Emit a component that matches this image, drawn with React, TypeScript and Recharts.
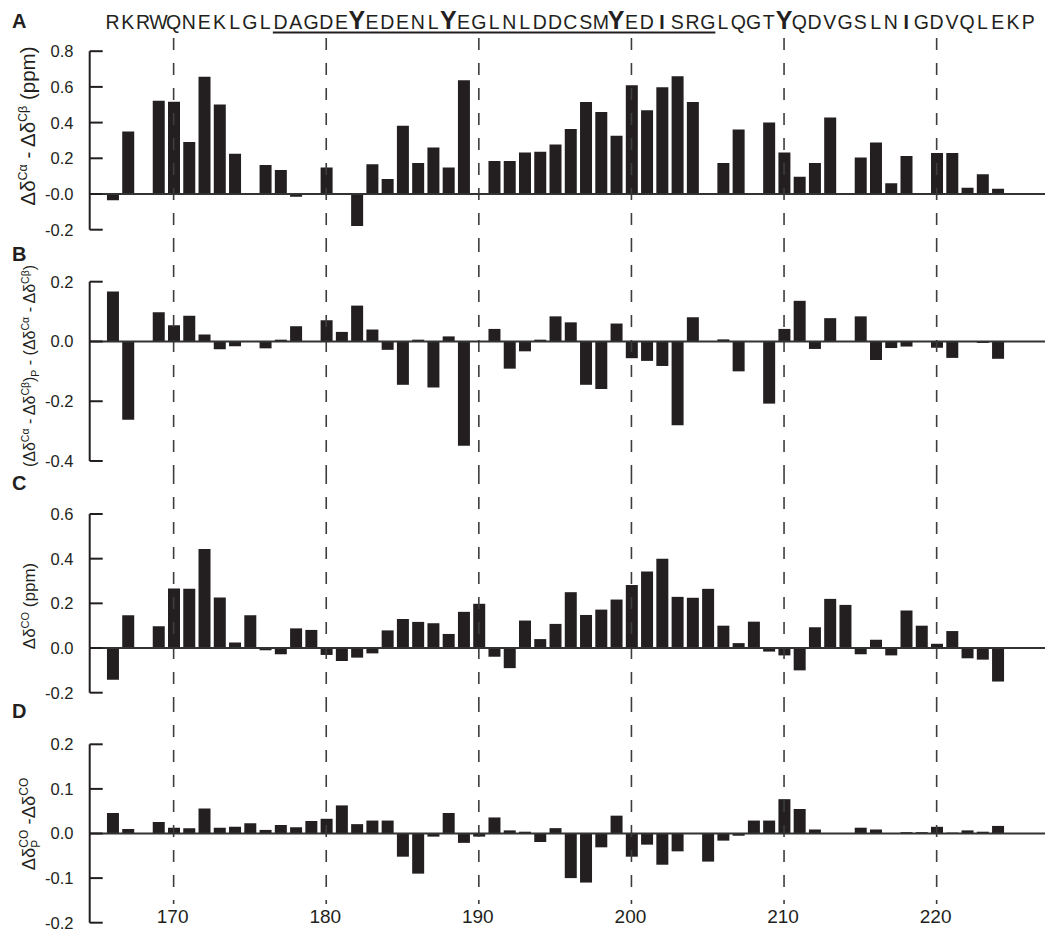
import React from 'react';
import { BarChart, Bar, XAxis, YAxis, ReferenceLine } from 'recharts';

const FONT = '"Liberation Sans", Arial, Helvetica, sans-serif';
const INK = '#231f20';

// Residue numbers carrying a bar (166–224)
const residues = [
  166, 167, 168, 169, 170, 171, 172, 173, 174, 175,
  176, 177, 178, 179, 180, 181, 182, 183, 184, 185,
  186, 187, 188, 189, 190, 191, 192, 193, 194, 195,
  196, 197, 198, 199, 200, 201, 202, 203, 204, 205,
  206, 207, 208, 209, 210, 211, 212, 213, 214, 215,
  216, 217, 218, 219, 220, 221, 222, 223, 224,
];

// Primary sequence written over the top panel, residues 166–226
const sequence = 'RKRWQNEKLGLDAGDEYEDENLYEGLNLDDCSMYEDISRGLQGTYQDVGSLNIGDVQLEKP'.split('');
const sequenceResidues = sequence.map((_, i) => 166 + i);
const underlinedSpan = [176.5, 205.5];
const residueTicks = [170, 180, 190, 200, 210, 220];

// A: Δδ(Cα) − Δδ(Cβ), ppm
const caCbShift = [
  -0.035, 0.35, 0, 0.523, 0.517, 0.291, 0.657, 0.502, 0.226, 0,
  0.162, 0.134, -0.015, 0, 0.149, 0, -0.179, 0.166, 0.084, 0.383,
  0.174, 0.26, 0.148, 0.637, 0, 0.185, 0.185, 0.232, 0.237, 0.278,
  0.364, 0.515, 0.459, 0.327, 0.609, 0.469, 0.598, 0.659, 0.515, 0,
  0.174, 0.362, 0, 0.4, 0.233, 0.097, 0.174, 0.428, 0, 0.204,
  0.288, 0.06, 0.213, 0, 0.23, 0.23, 0.035, 0.11, 0.03,
];

// B: phosphorylated minus unmodified Δδ(Cα) − Δδ(Cβ)
const caCbPhosDiff = [
  0.167, -0.262, 0, 0.098, 0.054, 0.086, 0.023, -0.026, -0.016, 0,
  -0.023, 0.006, 0.051, 0, 0.071, 0.032, 0.12, 0.04, -0.028, -0.145,
  0.006, -0.154, 0.017, -0.349, 0, 0.042, -0.091, -0.033, 0.006, 0.084,
  0.064, -0.145, -0.159, 0.06, -0.056, -0.065, -0.082, -0.28, 0.081, 0,
  0.007, -0.1, 0, -0.208, 0.042, 0.136, -0.025, 0.078, 0, 0.084,
  -0.062, -0.022, -0.017, 0, -0.021, -0.055, 0, -0.005, -0.058,
];

// C: Δδ(CO), ppm
const coShift = [
  -0.142, 0.147, 0, 0.097, 0.267, 0.265, 0.443, 0.226, 0.025, 0.147,
  -0.01, -0.028, 0.088, 0.081, -0.031, -0.058, -0.043, -0.024, 0.079, 0.13,
  0.117, 0.111, 0.063, 0.162, 0.198, -0.039, -0.09, 0.123, 0.04, 0.108,
  0.25, 0.148, 0.172, 0.217, 0.282, 0.343, 0.4, 0.229, 0.225, 0.265,
  0.1, 0.022, 0.118, -0.016, -0.033, -0.1, 0.093, 0.22, 0.193, -0.028,
  0.037, -0.033, 0.168, 0.1, 0.019, 0.076, -0.046, -0.052, -0.15,
];

// D: phosphorylated minus unmodified Δδ(CO)
const coPhosDiff = [
  0.046, 0.01, 0, 0.026, 0.013, 0.012, 0.056, 0.013, 0.015, 0.023,
  0.008, 0.019, 0.014, 0.028, 0.033, 0.063, 0.021, 0.029, 0.029, -0.052,
  -0.09, -0.007, 0.046, -0.021, -0.007, 0.036, 0.007, 0.004, -0.019, 0.012,
  -0.1, -0.11, -0.031, 0.04, -0.052, -0.025, -0.07, -0.04, 0.001, -0.063,
  -0.016, -0.005, 0.029, 0.029, 0.077, 0.055, 0.009, 0, -0.001, 0.013,
  0.009, 0, 0.003, 0.003, 0.015, 0.002, 0.007, 0.004, 0.017,
];

const ticksA = [0.8, 0.6, 0.4, 0.2, 0, -0.2];
const tickLabelsA = ['0.8', '0.6', '0.4', '0.2', '-0.0', '-0.2'];
const ticksB = [0.2, 0, -0.2, -0.4];
const tickLabelsB = ['0.2', '0.0', '-0.2', '-0.4'];
const ticksC = [0.6, 0.4, 0.2, 0, -0.2];
const tickLabelsC = ['0.6', '0.4', '0.2', '0.0', '-0.2'];
const ticksD = [0.2, 0.1, 0, -0.1, -0.2];
const tickLabelsD = ['0.2', '0.1', '0.0', '-0.1', '-0.2'];

type Run = { t: string; sup?: boolean; sub?: boolean; stackSup?: boolean };

const titleA: Run[] = [
  { t: 'Δδ' }, { t: 'Cα', sup: true }, { t: ' - Δδ' }, { t: 'Cβ', sup: true }, { t: ' (ppm)' },
];
const titleB: Run[] = [
  { t: '(Δδ' }, { t: 'Cα', sup: true }, { t: ' - Δδ' }, { t: 'Cβ', sup: true }, { t: ')' },
  { t: 'P', sub: true }, { t: ' - (Δδ' }, { t: 'Cα', sup: true }, { t: ' - Δδ' },
  { t: 'Cβ', sup: true }, { t: ')' },
];
const titleC: Run[] = [{ t: 'Δδ' }, { t: 'CO', sup: true }, { t: ' (ppm)' }];
const titleD: Run[] = [
  { t: 'Δδ' }, { t: 'P', sub: true }, { t: 'CO', stackSup: true }, { t: ' -Δδ' }, { t: 'CO', sup: true },
];

// ---- layout ----
const WIDTH = 1045;
const HEIGHT = 934;
const PLOT_LEFT = 89.7;
const AXIS_W = 80;
const TICK_LEN = 13;
const X_AXIS_H = 1;
const X_DOMAIN: [number, number] = [164.5, 227.1];

interface PanelSpec {
  letter: string;
  top: number;
  height: number;
  lo: number;
  hi: number;
  loPx: number;
  hiPx: number;
  titleY: number;
  titleSize: number;
  scriptSize: number;
  letterY: number;
  gridTopPx?: number;
  gridBottomPx?: number;
  values: number[];
  ticks: number[];
  tickLabels: string[];
  title: Run[];
  showSequence?: boolean;
  showResidueAxis?: boolean;
}

const renderRuns = (runs: Run[], size: number, small: number) => {
  const out: React.ReactNode[] = [];
  const up = Math.round(size * 0.38);
  const down = Math.round(size * 0.25);
  let shift = 0;
  runs.forEach((r, i) => {
    if (r.sup || r.stackSup) {
      const dx = r.stackSup ? -small * 0.667 : 0;
      out.push(
        <tspan key={i} dx={dx} dy={-up - shift} fontSize={small}>{r.t}</tspan>,
      );
      shift = -up;
    } else if (r.sub) {
      out.push(
        <tspan key={i} dy={down - shift} fontSize={small}>{r.t}</tspan>,
      );
      shift = down;
    } else {
      out.push(
        <tspan key={i} dy={-shift} fontSize={size}>{r.t}</tspan>,
      );
      shift = 0;
    }
  });
  return out;
};

const Panel = ({ spec }: { spec: PanelSpec }) => {
  const ppu = (spec.loPx - spec.hiPx) / (spec.hi - spec.lo);
  const valueAt = (px: number) => spec.lo + (spec.loPx - px) / ppu;
  const plotTopPx = spec.top + (spec.showSequence ? X_AXIS_H : 0);
  const plotBottomPx = spec.top + spec.height - (spec.showResidueAxis ? X_AXIS_H : 0);
  const domain: [number, number] = [valueAt(plotBottomPx), valueAt(plotTopPx)];
  const data = residues.map((r, i) => ({ r, v: spec.values[i] }));
  const gridTop = spec.gridTopPx !== undefined ? valueAt(spec.gridTopPx) : domain[1];
  const gridBottom = spec.gridBottomPx !== undefined ? valueAt(spec.gridBottomPx) : domain[0];

  const YTick = (props: any) => {
    const { y, payload } = props;
    const i = spec.ticks.findIndex((t) => Math.abs(t - payload.value) < 1e-9);
    return (
      <g>
        <line x1={PLOT_LEFT} x2={PLOT_LEFT + TICK_LEN} y1={y} y2={y} stroke={INK} strokeWidth={2} />
        <text x={73.5} y={y} dy="0.36em" textAnchor="end" fontSize={16.5} fontFamily={FONT} fill={INK}>
          {spec.tickLabels[i]}
        </text>
      </g>
    );
  };

  const SeqTick = (props: any) => {
    const { x, payload } = props;
    const idx = sequenceResidues.indexOf(payload.value);
    const aa = sequence[idx];
    const big = aa === 'Y';
    const bold = big || aa === 'I';
    return (
      <text
        x={x}
        y={29 - spec.top}
        textAnchor="middle"
        fontFamily={FONT}
        fontSize={big ? 25 : 19.5}
        fontWeight={bold ? 'bold' : 'normal'}
        fill={INK}
      >
        {aa}
      </text>
    );
  };

  const ResidueTick = (props: any) => {
    const { x, payload } = props;
    return (
      <text x={x - 1} y={922.7 - spec.top} textAnchor="middle" fontFamily={FONT} fontSize={19} fill={INK}>
        {payload.value}
      </text>
    );
  };

  const ty = spec.titleY - spec.top;
  const Title = () => (
    <g>
      <text x={12} y={spec.letterY - spec.top} fontFamily={FONT} fontSize={20} fontWeight="bold" fill={INK}>
        {spec.letter}
      </text>
      <text
        x={35}
        y={ty}
        transform={`rotate(-90 35 ${ty})`}
        textAnchor="middle"
        fontFamily={FONT}
        fill={INK}
      >
        {renderRuns(spec.title, spec.titleSize, spec.scriptSize)}
      </text>
    </g>
  );

  return (
    <div style={{ position: 'absolute', left: 0, top: spec.top, width: WIDTH, height: spec.height }}>
      <BarChart
        width={WIDTH}
        height={spec.height}
        data={data}
        margin={{ top: 0, right: 0, bottom: 0, left: PLOT_LEFT - AXIS_W }}
      >
        {spec.showSequence ? (
          <XAxis
            dataKey="r"
            type="number"
            orientation="top"
            domain={X_DOMAIN}
            allowDataOverflow
            ticks={sequenceResidues}
            interval={0}
            height={X_AXIS_H}
            axisLine={false}
            tickLine={false}
            tick={SeqTick}
          />
        ) : spec.showResidueAxis ? (
          <XAxis
            dataKey="r"
            type="number"
            orientation="bottom"
            domain={X_DOMAIN}
            allowDataOverflow
            ticks={residueTicks}
            interval={0}
            height={X_AXIS_H}
            axisLine={false}
            tickLine={false}
            tick={ResidueTick}
          />
        ) : (
          <XAxis dataKey="r" type="number" domain={X_DOMAIN} allowDataOverflow hide />
        )}
        <YAxis
          type="number"
          domain={domain}
          allowDataOverflow
          ticks={spec.ticks}
          interval={0}
          width={AXIS_W}
          axisLine={false}
          tickLine={false}
          tick={YTick}
          label={() => <Title />}
        />
        {residueTicks.map((t) => (
          <ReferenceLine
            key={t}
            segment={[{ x: t, y: gridTop }, { x: t, y: gridBottom }]}
            stroke="#3d3d3d"
            strokeWidth={1.6}
            strokeDasharray="12 13"
          />
        ))}
        <ReferenceLine
          segment={[{ x: X_DOMAIN[0], y: spec.lo }, { x: X_DOMAIN[0], y: spec.hi }]}
          stroke={INK}
          strokeWidth={2}
        />
        {spec.showSequence && (
          <ReferenceLine
            segment={[{ x: underlinedSpan[0], y: valueAt(32.5) }, { x: underlinedSpan[1], y: valueAt(32.5) }]}
            stroke={INK}
            strokeWidth={2}
          />
        )}
        <ReferenceLine y={0} stroke="#333333" strokeWidth={2} />
        <Bar dataKey="v" fill={INK} barSize={12} isAnimationActive={false} />
      </BarChart>
    </div>
  );
};

const panels: PanelSpec[] = [
  {
    letter: 'A', top: 0, height: 240, lo: -0.2, hi: 0.8, loPx: 229.7, hiPx: 51.2,
    titleY: 126, titleSize: 20.5, scriptSize: 12.5, letterY: 28, gridTopPx: 38,
    values: caCbShift, ticks: ticksA, tickLabels: tickLabelsA, title: titleA, showSequence: true,
  },
  {
    letter: 'B', top: 240, height: 232, lo: -0.4, hi: 0.2, loPx: 461, hiPx: 281.7,
    titleY: 366, titleSize: 16, scriptSize: 10.5, letterY: 261,
    values: caCbPhosDiff, ticks: ticksB, tickLabels: tickLabelsB, title: titleB,
  },
  {
    letter: 'C', top: 472, height: 228, lo: -0.2, hi: 0.6, loPx: 692.7, hiPx: 514,
    titleY: 606, titleSize: 17, scriptSize: 11, letterY: 490,
    values: coShift, ticks: ticksC, tickLabels: tickLabelsC, title: titleC,
  },
  {
    letter: 'D', top: 700, height: 234, lo: -0.2, hi: 0.2, loPx: 922.7, hiPx: 744.3,
    titleY: 824, titleSize: 18.5, scriptSize: 12, letterY: 718, gridBottomPx: 904,
    values: coPhosDiff, ticks: ticksD, tickLabels: tickLabelsD, title: titleD, showResidueAxis: true,
  },
];

export default function App() {
  return (
    <div
      style={{
        position: 'absolute',
        left: 0,
        top: 0,
        width: WIDTH,
        height: HEIGHT,
        background: '#ffffff',
        overflow: 'hidden',
      }}
    >
      <style>{'.recharts-surface { overflow: visible; }'}</style>
      {panels.map((p) => (
        <Panel key={p.letter} spec={p} />
      ))}
    </div>
  );
}
